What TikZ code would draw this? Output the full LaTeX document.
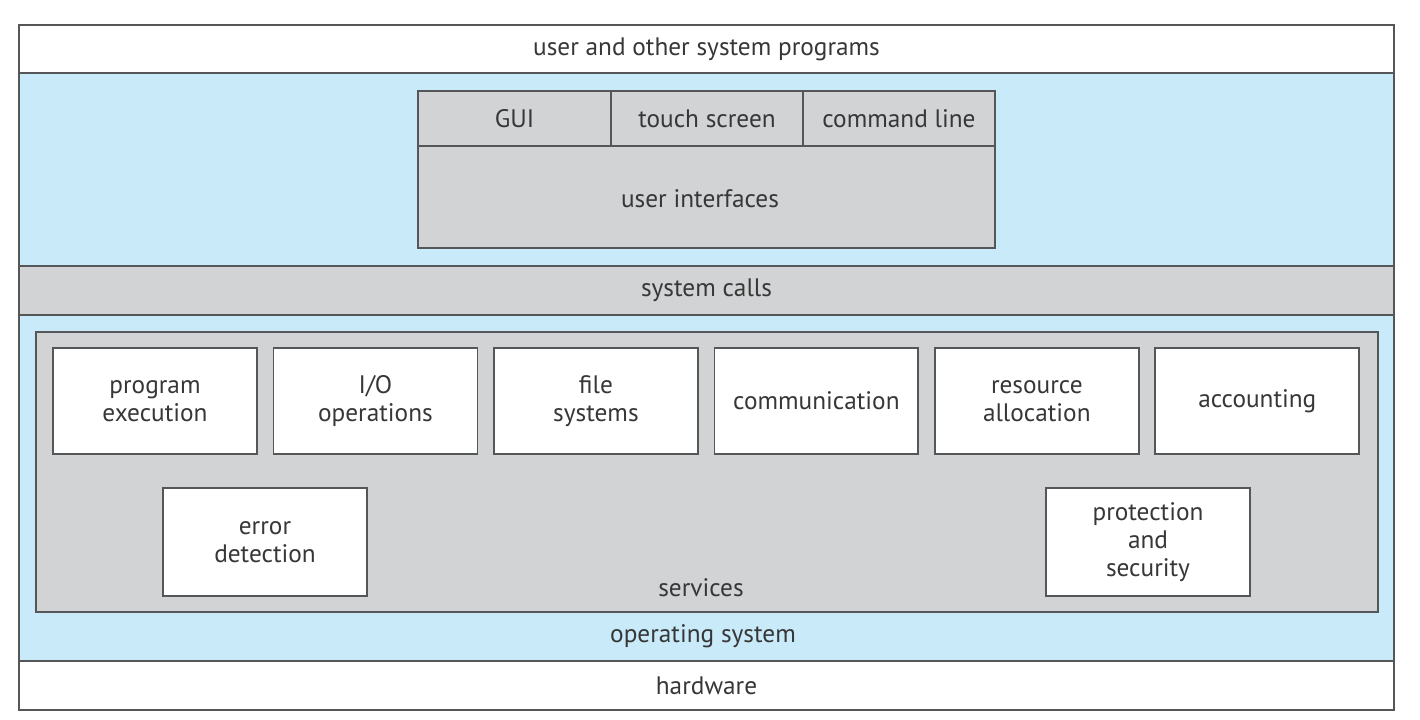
\documentclass[tikz,border=0pt]{standalone}
\usepackage{fontspec}
\setmainfont{PT Sans}
\usetikzlibrary{positioning}

\definecolor{osblue}{RGB}{200,234,249}
\definecolor{boxgray}{RGB}{209,211,212}
\definecolor{linegray}{RGB}{85,86,88}
\definecolor{textgray}{RGB}{55,55,55}

\begin{document}
\begin{tikzpicture}[x=0.02cm,y=-0.02cm,node distance=0.33cm,
  every node/.style={font=\fontsize{14.4}{16}\selectfont,text=textgray,inner sep=0pt,outer sep=0pt},
  band/.style={draw=linegray,line width=1pt,minimum width=27.5cm},
  cell/.style={draw=linegray,line width=1pt,fill=boxgray},
  service/.style={draw=linegray,line width=1pt,fill=white,align=center,minimum width=4.08cm,minimum height=2.12cm}]

  \useasboundingbox (0,0) rectangle (1420,720);

  % layers
  \node[band,fill=white,minimum height=0.96cm] (progs) at (706.5,49) {user and other system programs};
  \node[band,fill=osblue,minimum height=3.86cm] (osup) at (706.5,169.5) {};
  \node[band,fill=boxgray,minimum height=0.98cm] (calls) at (706.5,290.5) {system calls};
  \node[band,fill=osblue,minimum height=6.92cm] (oslow) at (706.5,488) {};
  \node[band,fill=white,minimum height=0.98cm] (hw) at (706.5,685.5) {hardware};
  \node (os) at (703,636) {operating system};

  % user interfaces
  \node[cell,minimum width=11.54cm,minimum height=2.04cm] (ui) at (706.5,197) {};
  \node (uilabel) at (700,199) {user interfaces};
  \node[cell,minimum width=3.86cm,minimum height=1.1cm] (gui) at (514.5,118.5) {GUI};
  \node[cell,minimum width=3.84cm,minimum height=1.1cm,right=0pt of gui] (touch) {touch screen};
  \node[cell,minimum width=3.84cm,minimum height=1.1cm,right=0pt of touch] (cmd) {command line};

  % services
  \node[cell,minimum width=26.84cm,minimum height=5.6cm] (services) at (707,472) {};
  \node (servlabel) at (701,588) {services};

  \node[service] (exec) at (155,401) {program\\execution};
  \node[service,right=of exec] (io) {I/O\\operations};
  \node[service,right=of io] (fs) {file\\systems};
  \node[service,right=of fs] (comm) {communication};
  \node[service,right=of comm] (alloc) {resource\\allocation};
  \node[service,right=of alloc] (acct) {accounting};

  \node[service,minimum height=2.16cm] (err) at (265,542) {error\\detection};
  \node[service,minimum height=2.16cm] (prot) at (1148,542) {protection\\and\\security};

\end{tikzpicture}
\end{document}
